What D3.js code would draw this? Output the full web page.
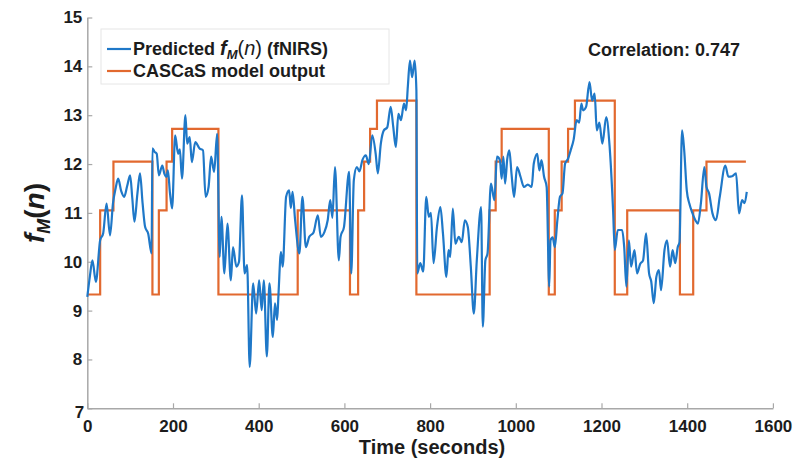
<!DOCTYPE html>
<html>
<head>
<meta charset="utf-8">
<style>
body { margin: 0; background: #fff; }
.axis .domain { stroke: #a8a8a8; stroke-width: 1.5px; }
.axis line { stroke: #a8a8a8; stroke-width: 1.2px; }
.axis text { font-family: Arial, "Liberation Sans", sans-serif; font-weight: bold; font-size: 17px; fill: #1c1c1c; }
</style>
</head>
<body>
<svg width="796" height="459"></svg>
<script src="https://d3js.org/d3.v7.min.js"></script>
<script>
// predicted f_M(n) from fNIRS
var predTime = [0, 6, 12, 20, 30, 37, 45, 53, 60, 66, 72, 79, 86, 93, 100, 105, 110, 117, 123, 129,
  135, 142, 150, 152, 157, 162, 167, 175, 180, 185, 188, 193, 198, 205, 212, 216, 221, 229, 233, 239,
  244, 252, 262, 270, 276, 283, 289, 296, 303, 309, 313, 320, 327, 335, 340, 348, 354, 361, 367, 373,
  379, 387, 394, 401, 407, 412, 419, 425, 433, 438, 443, 446, 452, 456, 464, 471, 475, 479, 485, 495,
  502, 510, 518, 528, 538, 545, 553, 561, 567, 572, 578, 587, 591, 599, 611, 616, 622, 629, 635, 642,
  650, 657, 665, 673, 678, 685, 692, 700, 708, 714, 720, 726, 732, 739, 744, 748, 753, 758, 764, 768,
  770, 777, 784, 791, 797, 802, 808, 816, 824, 830, 838, 843, 847, 853, 859, 867, 874, 881, 888, 895,
  902, 909, 919, 923, 929, 934, 942, 950, 956, 963, 967, 971, 975, 980, 985, 990, 996, 1003, 1011, 1019,
  1028, 1037, 1042, 1050, 1055, 1060, 1066, 1072, 1078, 1081, 1086, 1091, 1097, 1103, 1109, 1115, 1122, 1128, 1135, 1142,
  1148, 1153, 1157, 1164, 1172, 1178, 1184, 1189, 1195, 1202, 1211, 1219, 1227, 1231, 1238, 1248, 1253, 1258, 1264, 1269,
  1277, 1283, 1290, 1297, 1304, 1311, 1316, 1322, 1328, 1334, 1339, 1347, 1353, 1360, 1366, 1372, 1378, 1382, 1388, 1393,
  1399, 1405, 1412, 1419, 1425, 1432, 1440, 1445, 1451, 1459, 1467, 1476, 1489, 1496, 1505, 1514, 1521, 1528, 1534, 1539];
var predValue = [9.28, 9.7, 10.03, 9.59, 10.44, 10.58, 11.19, 10.54, 11.2, 11.5, 11.7, 11.45, 11.33, 11.55, 11.77, 11.3, 10.82, 11.4, 11.81, 11.2,
  10.71, 10.58, 10.17, 12.32, 12.25, 12.21, 11.77, 11.97, 11.8, 11.74, 11.87, 11.4, 11.09, 12.59, 12.21, 12.3, 11.7, 13.0, 12.42, 12.55,
  12.04, 12.45, 12.32, 12.28, 11.33, 11.53, 12.15, 11.84, 12.62, 10.1, 10.92, 9.76, 10.78, 9.62, 10.3, 9.9, 10.0, 11.36, 9.76, 9.93,
  7.85, 9.56, 8.94, 9.62, 9.01, 9.62, 8.06, 9.56, 8.46, 9.15, 8.81, 9.3, 10.2, 9.9, 11.33, 11.46, 11.1, 11.43, 10.85, 10.17,
  11.33, 10.3, 10.51, 10.6, 10.95, 10.51, 10.6, 10.85, 11.26, 10.9, 11.94, 10.03, 10.51, 10.71, 11.84, 9.76, 11.67, 11.94, 11.85, 12.08,
  12.18, 12.0, 12.59, 12.21, 11.81, 12.42, 12.69, 12.75, 13.17, 12.76, 12.35, 13.03, 12.9, 13.24, 13.1, 13.58, 14.12, 13.78, 14.12, 13.51,
  9.76, 9.97, 9.8, 11.33, 10.92, 11.0, 9.97, 10.71, 11.12, 10.58, 9.69, 10.24, 10.1, 11.09, 10.37, 10.51, 10.4, 10.85, 10.71, 9.9,
  8.94, 10.03, 11.12, 8.67, 10.03, 10.17, 11.6, 11.26, 12.15, 12.08, 11.7, 12.15, 11.6, 12.1, 12.28, 11.8, 11.33, 11.94, 11.74, 11.53,
  11.58, 11.53, 12.01, 12.21, 11.87, 12.08, 11.74, 11.53, 9.49, 10.44, 10.5, 10.3, 10.85, 11.33, 11.4, 12.01, 12.11, 12.28, 12.5, 12.9,
  12.85, 13.24, 13.1, 13.17, 13.68, 13.3, 13.44, 12.69, 12.85, 12.42, 12.96, 12.35, 11.06, 10.24, 10.65, 10.65, 10.3, 9.49, 10.44, 9.9,
  10.24, 9.76, 9.95, 10.03, 10.58, 9.76, 9.6, 9.15, 9.69, 9.83, 9.42, 10.24, 10.44, 9.9, 10.24, 9.97, 10.3, 10.4, 12.69, 12.28,
  11.46, 11.19, 11.0, 10.85, 10.78, 11.2, 11.94, 11.53, 11.4, 10.99, 10.85, 11.33, 11.97, 11.74, 11.75, 11.81, 10.99, 11.26, 11.2, 11.43];

// CASCaS model output (step levels, each holds until the next time)
var modelTime = [0, 30, 61, 152, 167, 185, 198, 306, 491, 613, 632, 646, 660, 676, 768, 939, 953, 967,
  1077, 1091, 1107, 1122, 1138, 1231, 1260, 1383, 1414, 1445, 1537];
var modelLevel = [9.33, 11.05, 12.05, 9.33, 11.05, 12.05, 12.72, 9.33, 11.05, 9.33, 11.05, 12.05, 12.72, 13.3, 9.33, 11.05, 12.05, 12.72,
  9.33, 11.05, 12.05, 12.72, 13.3, 9.33, 11.05, 9.33, 11.05, 12.05, 12.05];

var xTicks = [0, 200, 400, 600, 800, 1000, 1200, 1400, 1600];
var yTicks = [7, 8, 9, 10, 11, 12, 13, 14, 15];

var svg = d3.select("svg");
var x = d3.scaleLinear().domain([0, 1600]).range([87.3, 772.9]);
var y = d3.scaleLinear().domain([7, 15]).range([408.3, 17.5]);

var pred = predTime.map(function(t, i) { return {t: t, v: predValue[i]}; });
var model = modelTime.map(function(t, i) { return {t: t, v: modelLevel[i]}; });

svg.append("g")
    .attr("class", "axis")
    .attr("transform", "translate(0," + y(7) + ")")
    .call(d3.axisBottom(x).tickValues(xTicks).tickFormat(d3.format("d"))
      .tickSizeInner(-5).tickSizeOuter(0).tickPadding(12));
var yAxis = svg.append("g")
    .attr("class", "axis")
    .attr("transform", "translate(" + x(0) + ",0)")
    .call(d3.axisLeft(y).tickValues(yTicks).tickSizeInner(-5).tickSizeOuter(0).tickPadding(5));
yAxis.selectAll(".tick").filter(function(d) { return d === 7; }).select("text")
    .attr("dy", "0.55em").attr("x", -3);

svg.append("path")
    .datum(model)
    .attr("fill", "none")
    .attr("stroke", "#e2692f")
    .attr("stroke-width", 2.2)
    .attr("d", d3.line().curve(d3.curveStepAfter)
      .x(function(d) { return x(d.t); })
      .y(function(d) { return y(d.v); }));

svg.append("path")
    .datum(pred)
    .attr("fill", "none")
    .attr("stroke", "#1f78c8")
    .attr("stroke-width", 2.2)
    .attr("stroke-linejoin", "round")
    .attr("d", d3.line().curve(d3.curveMonotoneX)
      .x(function(d) { return x(d.t); })
      .y(function(d) { return y(d.v); }));

// legend
var legend = svg.append("g")
    .attr("font-family", "Arial, 'Liberation Sans', sans-serif")
    .attr("font-weight", "bold")
    .attr("font-size", 18)
    .attr("fill", "#1c1c1c");
legend.append("rect")
    .attr("x", 101).attr("y", 29).attr("width", 288).attr("height", 55)
    .attr("fill", "#fff").attr("stroke", "#e6e6e6");
legend.append("line").attr("x1", 107).attr("x2", 131).attr("y1", 49).attr("y2", 49)
    .attr("stroke", "#1f78c8").attr("stroke-width", 2.2);
legend.append("line").attr("x1", 107).attr("x2", 131).attr("y1", 71).attr("y2", 71)
    .attr("stroke", "#e2692f").attr("stroke-width", 2.2);
var t1 = legend.append("text").attr("x", 133).attr("y", 55);
t1.append("tspan").text("Predicted ");
t1.append("tspan").attr("font-style", "italic").attr("font-size", 20).text("f");
t1.append("tspan").attr("font-style", "italic").attr("font-size", 13).attr("dy", 4).text("M");
t1.append("tspan").attr("dy", -4).attr("font-weight", "normal").attr("font-size", 20).text("(");
t1.append("tspan").attr("font-style", "italic").attr("font-weight", "normal").attr("font-size", 20).text("n");
t1.append("tspan").attr("font-weight", "normal").attr("font-size", 20).text(")");
t1.append("tspan").text(" (fNIRS)");
legend.append("text").attr("x", 133).attr("y", 77).text("CASCaS model output");

svg.append("text")
    .attr("x", 588).attr("y", 56)
    .attr("font-family", "Arial, 'Liberation Sans', sans-serif")
    .attr("font-weight", "bold").attr("font-size", 18).attr("fill", "#1c1c1c")
    .text("Correlation: 0.747");

svg.append("text")
    .attr("x", 432).attr("y", 454)
    .attr("text-anchor", "middle")
    .attr("font-family", "Arial, 'Liberation Sans', sans-serif")
    .attr("font-weight", "bold").attr("font-size", 20).attr("fill", "#1c1c1c")
    .text("Time (seconds)");

var yl = svg.append("text")
    .attr("transform", "translate(44,213) rotate(-90)")
    .attr("text-anchor", "middle")
    .attr("font-family", "Arial, 'Liberation Sans', sans-serif")
    .attr("font-weight", "bold").attr("font-size", 28).attr("fill", "#1c1c1c");
yl.append("tspan").attr("font-style", "italic").text("f");
yl.append("tspan").attr("font-style", "italic").attr("font-size", 18).attr("dy", 6).text("M");
yl.append("tspan").attr("dy", -6).text("(");
yl.append("tspan").attr("font-style", "italic").text("n");
yl.append("tspan").text(")");
</script>
</body>
</html>
